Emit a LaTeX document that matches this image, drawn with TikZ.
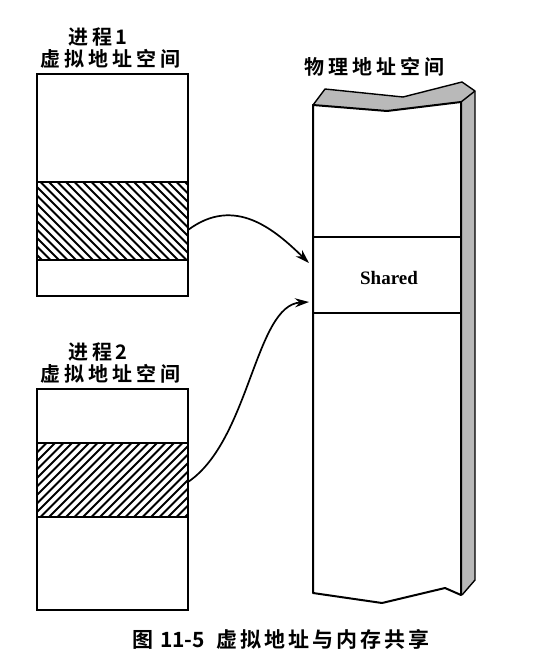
\documentclass[tikz,border=0pt]{standalone}
\usepackage{fontspec}
\newfontfamily\cjk{Noto Sans CJK SC Bold}
\setmainfont{Liberation Serif}
\usetikzlibrary{arrows.meta}
\begin{document}
\begin{tikzpicture}[x=1pt,y=-1pt,
  box/.style={draw,line width=2pt},
  lbl/.style={font=\cjk\fontsize{20}{21}\selectfont, inner sep=0pt},
  arr/.style={line width=1.7pt,-{Stealth[length=14pt,width=9pt]}}]
\useasboundingbox (0,0) rectangle (546,666);
% labels
\node[lbl] (p1) at (98,37) {进\,程\,1};
\node[lbl] (v1) at (110,59) {虚\hspace{4pt}拟\hspace{4pt}地\hspace{4pt}址\hspace{4pt}空\hspace{4pt}间};
\node[lbl] (p2) at (98,352) {进\,程\,2};
\node[lbl] (v2) at (110,374) {虚\hspace{4pt}拟\hspace{4pt}地\hspace{4pt}址\hspace{4pt}空\hspace{4pt}间};
\node[lbl] (ph) at (374,67) {物\hspace{4pt}理\hspace{4pt}地\hspace{4pt}址\hspace{4pt}空\hspace{4pt}间};
% box 1
\begin{scope}
\clip (37,182) rectangle (188,260);
\foreach \i in {-90,-81.5,...,200} \draw[line width=2pt] (37+\i,182) -- ++(78,78);
\end{scope}
\draw[box] (37,74) rectangle (188,296);
\draw[box] (37,182) -- (188,182);
\draw[box] (37,260) -- (188,260);
\coordinate (b1) at (188,230);
% box 2
\begin{scope}
\clip (37,443) rectangle (188,517);
\foreach \i in {-90,-81.5,...,200} \draw[line width=2pt] (37+\i,517) -- ++(74,-74);
\end{scope}
\draw[box] (37,389) rectangle (188,610);
\draw[box] (37,443) -- (188,443);
\draw[box] (37,517) -- (188,517);
\coordinate (b2) at (188,482);
% physical column
\fill[gray!55] (313,105) -- (325,89) -- (403,97) -- (462,82) -- (475,91) -- (461,102) -- (387,111) -- cycle;
\fill[gray!55] (461,102) -- (475,91) -- (475,580) -- (462,595) -- cycle;
\draw[line width=1.4pt,line join=round] (313,105) -- (325,89) -- (403,97) -- (462,82) -- (475,91) -- (475,580) -- (462,595);
\draw[line width=1.4pt,line join=round] (461,102) -- (475,91);
\draw[box,line join=round] (313,105) -- (387,111) -- (461,102) -- (461,595) -- (445,588) -- (382,603) -- (313,593) -- cycle;
\draw[box] (313,237) -- (461,237);
\draw[box] (313,313) -- (461,313);
\node[font=\bfseries\fontsize{19}{20}\selectfont] (sh) at (389,278) {Shared};
\coordinate (s1) at (309,263);
\coordinate (s2) at (309,302);
% arrows
\draw[arr] (b1) .. controls (235,195) and (275,230) .. (s1);
\draw[arr] (b2) .. controls (250,440) and (255,305) .. (s2);
% caption
\node[font=\cjk\fontsize{21}{22}\selectfont, inner sep=0pt] (cap) at (281,639) {图\hspace{7pt}11-5\hspace{12pt}虚\hspace{3pt}拟\hspace{3pt}地\hspace{3pt}址\hspace{3pt}与\hspace{3pt}内\hspace{3pt}存\hspace{3pt}共\hspace{3pt}享};
\end{tikzpicture}
\end{document}
